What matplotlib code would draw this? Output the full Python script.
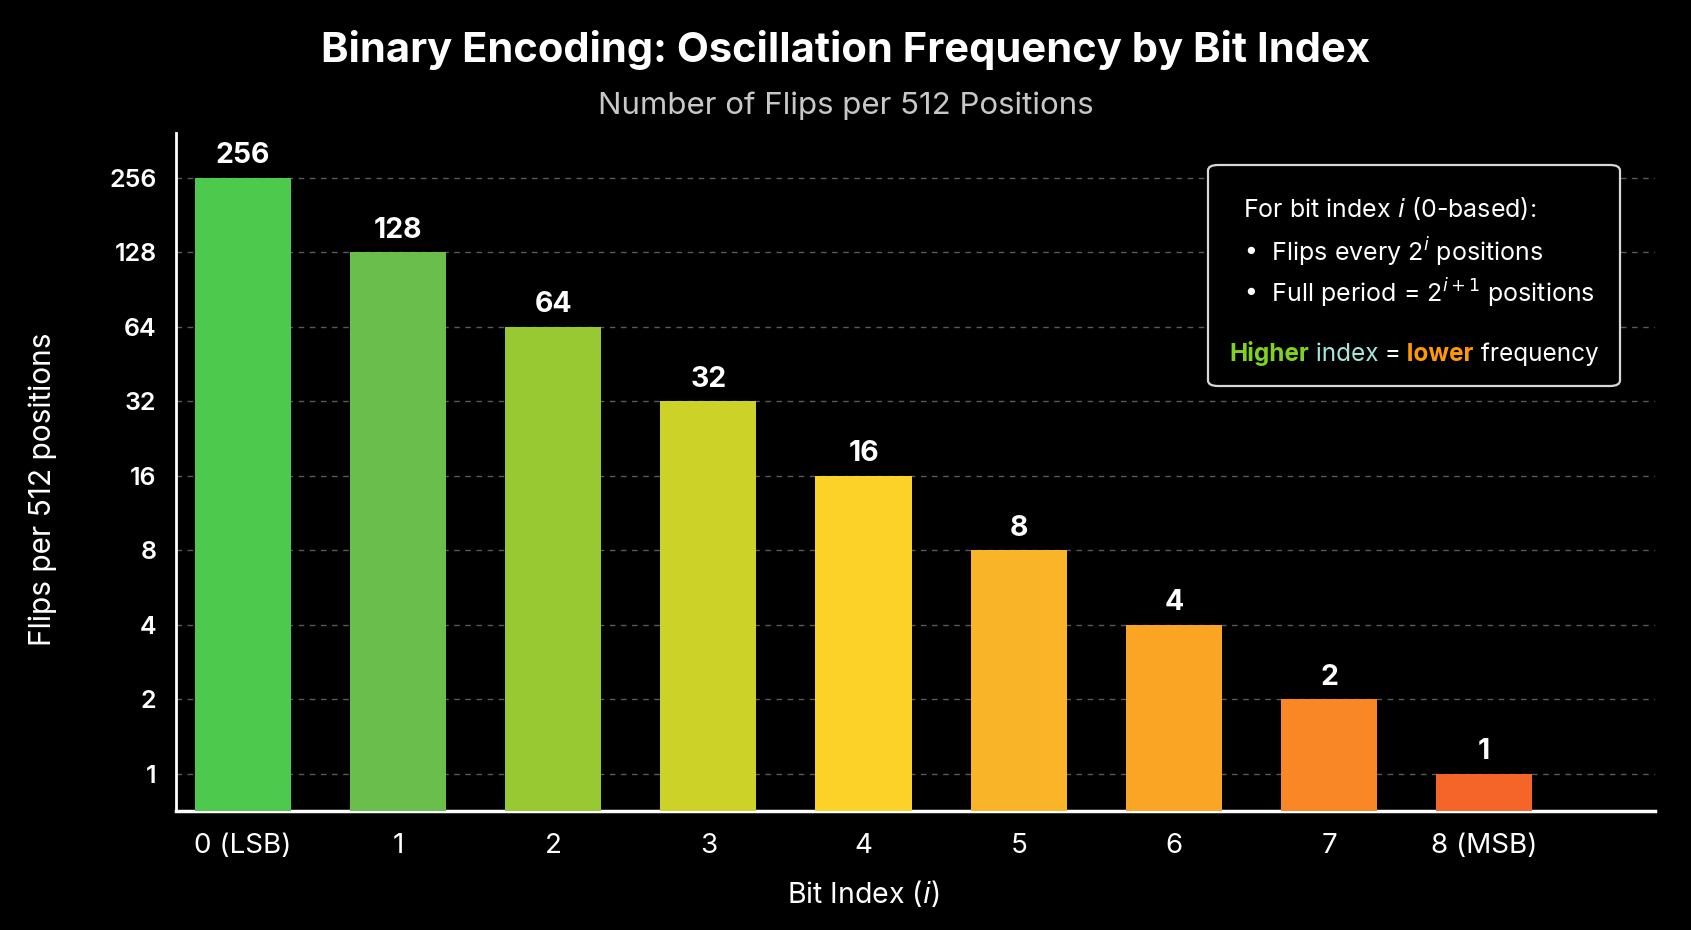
import matplotlib
matplotlib.use("Agg")
import matplotlib.pyplot as plt
from matplotlib.patches import FancyBboxPatch
from matplotlib.offsetbox import TextArea, HPacker, AnnotationBbox

# ---- data ----
bit_labels = ["0 (LSB)", "1", "2", "3", "4", "5", "6", "7", "8 (MSB)"]
flips = [256, 128, 64, 32, 16, 8, 4, 2, 1]
bar_colors = ["#4dc94d", "#6abe4c", "#98c832", "#cdd228", "#fdd228",
              "#fab428", "#faa523", "#fa8726", "#f56428"]
y_ticks = [1, 2, 4, 8, 16, 32, 64, 128, 256]

plt.rcParams['font.family'] = ['Inter', 'DejaVu Sans']
plt.rcParams['mathtext.fontset'] = 'dejavusans'

W, H = 1691, 930
fig = plt.figure(figsize=(W / 100, H / 100), dpi=100, facecolor="black")
ax = fig.add_axes([176 / W, 1 - 811 / H, (1655 - 176) / W, (811 - 133) / H])
ax.set_facecolor("black")

x = list(range(len(flips)))
ax.bar(x, flips, width=0.62, color=bar_colors, zorder=3)
ax.set_yscale("log", base=2)
ax.set_ylim(2 ** -0.5, 2 ** 8.6)
ax.set_xlim(-0.43, 9.1)

ax.set_yticks(y_ticks)
ax.set_yticklabels([str(v) for v in y_ticks])
ax.minorticks_off()
ax.set_xticks(x)
ax.set_xticklabels(bit_labels)
ax.tick_params(axis="y", length=0, pad=14, labelsize=18, colors="white")
ax.tick_params(axis="x", length=0, pad=16, labelsize=20, colors="white")
for lab in ax.get_yticklabels():
    lab.set_fontweight("semibold")

ax.grid(axis="y", color="#5a5a5a", linestyle=(0, (4, 4)), linewidth=1.0, zorder=0)
for s in ["top", "right"]:
    ax.spines[s].set_visible(False)
ax.spines["left"].set_color("white")
ax.spines["left"].set_linewidth(2)
ax.spines["bottom"].set_color("white")
ax.spines["bottom"].set_linewidth(2.5)

for xi, v in zip(x, flips):
    ax.annotate(str(v), (xi, v), xytext=(0, 6), textcoords="offset points",
                ha="center", va="bottom", color="white", fontsize=20.5,
                fontweight="bold")

ax.set_ylabel("Flips per 512 positions", color="white", fontsize=21.5, va="center")
ax.yaxis.set_label_coords(-0.09, 0.475)
ax.set_xlabel("Bit Index ($\\it{i}$)", color="white", fontsize=20.5, va="center")
ax.xaxis.set_label_coords((4 + 0.43) / 9.53, -0.121)

fig.text(0.5, 1 - 50 / H, "Binary Encoding: Oscillation Frequency by Bit Index",
         ha="center", va="center", color="white", fontsize=30, fontweight="bold")
fig.text(0.5, 1 - 106 / H, "Number of Flips per 512 Positions",
         ha="center", va="center", color="#c8c8c8", fontsize=22.5)

# ---- info box ----
bx0, bx1, by0, by1 = 1208, 1620, 165, 386
box = FancyBboxPatch((bx0 / W, 1 - by1 / H), (bx1 - bx0) / W, (by1 - by0) / H,
                     boxstyle="round,pad=0,rounding_size=0.006",
                     transform=fig.transFigure, facecolor="black",
                     edgecolor="#d8d8d8", linewidth=1.6, zorder=10)
fig.patches.append(box)
fs_box = 18
fig.text(1243 / W, 1 - 208 / H, "For bit index $\\it{i}$ (0-based):",
         ha="left", va="center", color="white", fontsize=fs_box, zorder=11)
fig.text(1243 / W, 1 - 252 / H, "•  Flips every 2$^{i}$ positions",
         ha="left", va="center", color="white", fontsize=fs_box, zorder=11)
fig.text(1243 / W, 1 - 293 / H, "•  Full period = 2$^{i+1}$ positions",
         ha="left", va="center", color="white", fontsize=fs_box, zorder=11)

parts = [("Higher", "#7ed321", "bold"), (" index", "#a8e8dc", "normal"),
         (" =", "white", "normal"), (" lower", "#ff9a00", "bold"),
         (" frequency", "white", "normal")]
areas = [TextArea(t, textprops=dict(color=c, fontsize=17.5, fontweight=w))
         for t, c, w in parts]
pack = HPacker(children=areas, align="baseline", pad=0, sep=0)
ab = AnnotationBbox(pack, (1229 / W, 1 - 353 / H), xycoords="figure fraction",
                    box_alignment=(0, 0.5), frameon=False, zorder=11)
fig.add_artist(ab)

fig.savefig("out.png", dpi=100, facecolor="black")
